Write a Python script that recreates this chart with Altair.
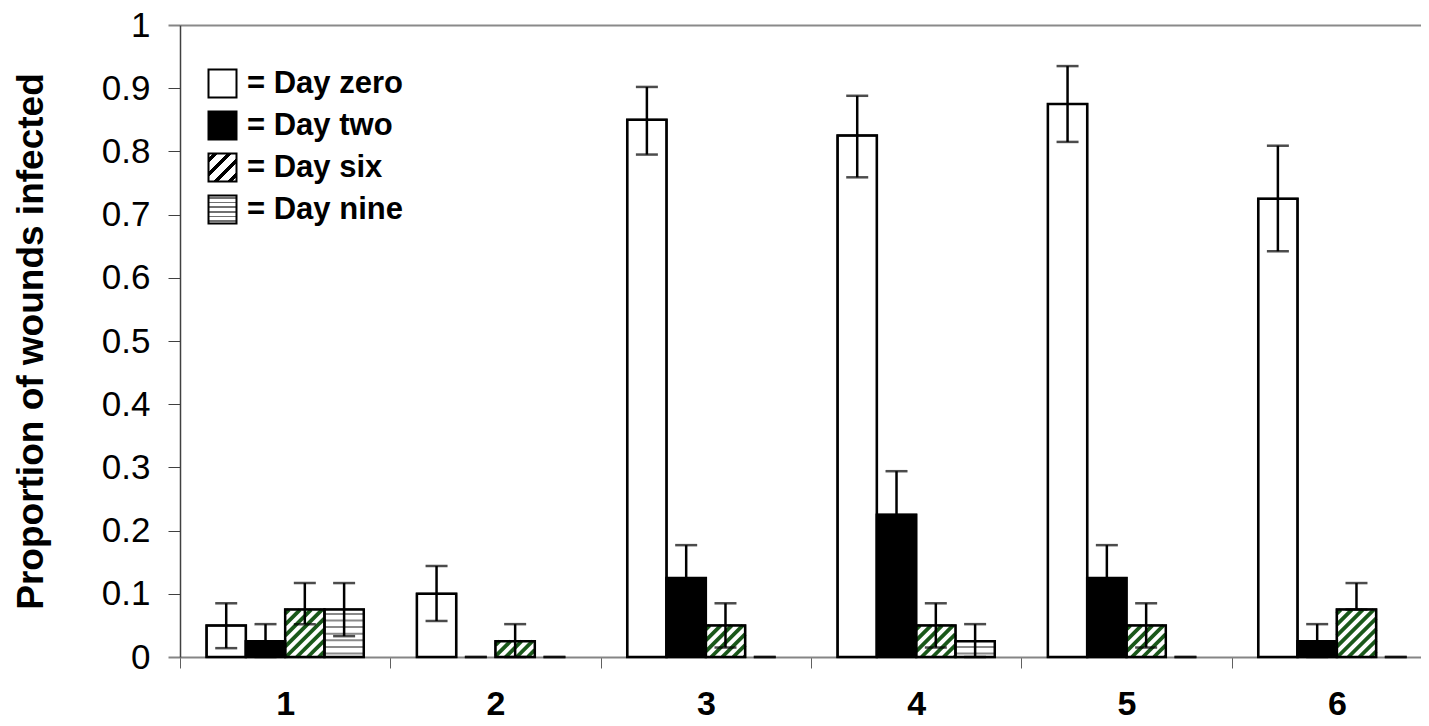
import altair as alt
import pandas as pd

# ---------------- data ----------------
groups = ["1", "2", "3", "4", "5", "6"]
series = ["Day zero", "Day two", "Day six", "Day nine"]

day_zero = [0.05, 0.10, 0.85, 0.825, 0.875, 0.725]
day_two = [0.025, 0.0, 0.125, 0.225, 0.125, 0.025]
day_six = [0.075, 0.025, 0.05, 0.05, 0.05, 0.075]
day_nine = [0.075, 0.0, 0.0, 0.025, 0.0, 0.0]

zero_lo = [0.014, 0.057, 0.795, 0.759, 0.815, 0.642]
zero_hi = [0.085, 0.144, 0.902, 0.888, 0.935, 0.809]
two_lo = [0.0, 0.0, 0.075, 0.156, 0.075, 0.0]
two_hi = [0.052, 0.0, 0.177, 0.294, 0.177, 0.052]
six_lo = [0.052, 0.0, 0.015, 0.015, 0.015, 0.075]
six_hi = [0.117, 0.052, 0.085, 0.085, 0.085, 0.117]
nine_lo = [0.033, 0.0, 0.0, 0.0, 0.0, 0.0]
nine_hi = [0.117, 0.0, 0.0, 0.052, 0.0, 0.0]

y_ticks = [0, 0.1, 0.2, 0.3, 0.4, 0.5, 0.6, 0.7, 0.8, 0.9, 1]

values = [day_zero, day_two, day_six, day_nine]
lows = [zero_lo, two_lo, six_lo, nine_lo]
highs = [zero_hi, two_hi, six_hi, nine_hi]

rows = []
for gi, g in enumerate(groups):
    for si, s in enumerate(series):
        rows.append(dict(group=g, series=s, value=values[si][gi],
                         lo=lows[si][gi], hi=highs[si][gi]))
df = pd.DataFrame(rows)

# ---------------- layout / style constants ----------------
PLOT_W = 1241
PLOT_H = 632
X_RANGE = 1262               # 6 groups, last one runs past the window edge
GROUP_PX = X_RANGE / 6
P0 = 0.676                   # outer padding of the offset scale
F = 1 / (4 + 2 * P0)         # one bar as a fraction of a group
FONT = "Liberation Sans"
GREEN = "#1a581a"

# hatch segments, derived from the bar values
hrows = []
for gi in range(len(groups)):
    for si, s in enumerate(series):
        v = values[si][gi]
        if v <= 0 or s not in ("Day six", "Day nine"):
            continue
        left = gi + P0 * F + si * F
        w = F * GROUP_PX
        h = v * PLOT_H
        if s == "Day six":
            c = -h + 4
            while c < w:
                us = max(0.0, c)
                ue = min(w, h + c)
                if ue - us > 0.5:
                    hrows.append(dict(kind="six", hx=left + us / GROUP_PX, hx2=left + ue / GROUP_PX,
                                      hy=(us - c) / PLOT_H, hy2=(ue - c) / PLOT_H))
                c += 11
        else:
            yy = 3.5
            while yy < h - 1.5:
                hrows.append(dict(kind="nine", hx=left, hx2=left + F,
                                  hy=yy / PLOT_H, hy2=yy / PLOT_H))
                yy += 6.6
hdf = pd.DataFrame(hrows)


def stripes(x2, y2, n, frac, color):
    stops = []
    for k in range(n):
        a = k / n
        m1 = a + (1 - frac) / (2 * n)
        m2 = m1 + frac / n
        e = (k + 1) / n
        for off, col in ((a, "white"), (m1, "white"), (m1, color), (m2, color), (m2, "white"), (e, "white")):
            stops.append("{offset: %.4f, color: '%s'}" % (off, col))
    return {"expr": "{gradient: 'linear', x1: 0, y1: 0, x2: %d, y2: %d, stops: [%s]}"
            % (x2, y2, ", ".join(stops))}


fill_range = ["white", "black", stripes(1, 1, 4, 0.42, "black"), stripes(0, 1, 6, 0.38, "#707070")]

TITLE = "Proportion of wounds infected"

y_axis = alt.Axis(
    values=y_ticks, format=".1~f",
    labelFont=FONT, labelFontSize=35, labelColor="black", labelPadding=18,
    tickSize=12,
    tickColor={"condition": {"test": "datum.value == 0 || datum.value >= 0.99", "value": "#858585"},
               "value": "#404040"},
    tickWidth={"condition": {"test": "datum.value == 0 || datum.value >= 0.99", "value": 2},
               "value": 1},
    domainColor="#404040", domainWidth=1.5,
    grid=True, gridColor="#8a8a8a", gridWidth=2,
    gridOpacity={"condition": {"test": "datum.value >= 0.99", "value": 1}, "value": 0},
    title=TITLE, titleFont=FONT, titleFontSize=37, titleFontWeight="bold", titleColor="black",
    titleX=-149, titleY=PLOT_H / 2, titleAngle=270, titleAlign="center", titleBaseline="middle",
)
y_scale = alt.Scale(domain=[0, 1], nice=False, zero=True)

x_axis = alt.Axis(
    tickBand="extent", tickSize=11, tickColor="#606060", tickWidth=1,
    domainColor="#858585", domainWidth=2,
    labelFont=FONT, labelFontSize=34, labelFontWeight="bold", labelColor="black",
    labelPadding=19, labelAngle=0, title=None, grid=False,
)


def xenc(axis=True):
    return alt.X("group:N", sort=groups,
                 scale=alt.Scale(domain=groups, paddingInner=0, paddingOuter=0, range=[0, X_RANGE]),
                 axis=x_axis if axis else None)


xoff = alt.XOffset("series:N", sort=series,
                   scale=alt.Scale(domain=series, paddingOuter=P0, paddingInner=0))


def yenc(field):
    return alt.Y(f"{field}:Q", scale=y_scale, axis=y_axis, title=TITLE)


base = alt.Chart(df)

bars = base.mark_bar(stroke="black", strokeWidth=2).encode(
    x=xenc(), xOffset=xoff, y=yenc("value"),
    fill=alt.Fill("series:N", sort=series,
                  scale=alt.Scale(domain=series, range=fill_range),
                  legend=alt.Legend(
                      orient="none", legendX=27, legendY=43, padding=0, title=None,
                      symbolType="square", symbolSize=784, symbolStrokeColor="black",
                      symbolStrokeWidth=2, symbolOpacity=1,
                      labelFont=FONT, labelFontSize=31, labelFontWeight="bold",
                      labelColor="black", labelOffset=9, rowPadding=5,
                      labelExpr="'= ' + datum.label",
                  )),
).transform_filter("datum.value > 0")

white_cover = base.mark_bar(fill="white", strokeWidth=0).encode(
    x=xenc(), xOffset=xoff, y=yenc("value"),
).transform_filter("datum.value > 0 && (datum.series == 'Day six' || datum.series == 'Day nine')")

bottom = alt.layer(bars, white_cover)

hx = alt.X("hx:Q", scale=alt.Scale(domain=[0, 6], range=[0, X_RANGE], nice=False, zero=False), axis=None)
hbase = alt.Chart(hdf)
h6 = hbase.mark_rule(color=GREEN, strokeWidth=3.8).encode(
    x=hx, x2="hx2:Q", y=yenc("hy"), y2="hy2:Q",
).transform_filter("datum.kind == 'six'")
h9 = hbase.mark_rule(color="#8a8a8a", strokeWidth=2).encode(
    x=hx, x2="hx2:Q", y=yenc("hy"), y2="hy2:Q",
).transform_filter("datum.kind == 'nine'")
hatch = alt.layer(h6, h9)

outline = base.mark_bar(fillOpacity=0, stroke="black", strokeWidth=2.5).encode(
    x=xenc(False), xOffset=xoff, y=yenc("value"),
).transform_filter("datum.value > 0")

stems = base.mark_rule(color="black", strokeWidth=2.5).encode(
    x=xenc(False), xOffset=xoff, y=yenc("lo"), y2="hi:Q",
).transform_filter("datum.hi > datum.lo")

cap_hi = base.mark_tick(color="black", thickness=2.5, size=22, orient="horizontal").encode(
    x=xenc(False), xOffset=xoff, y=yenc("hi"),
)
cap_lo = base.mark_tick(color="black", thickness=2.5, size=22, orient="horizontal").encode(
    x=xenc(False), xOffset=xoff, y=yenc("lo"),
)
top = alt.layer(outline, stems, cap_hi, cap_lo)

chart = alt.layer(bottom, hatch, top).resolve_scale(x="independent").properties(
    width=PLOT_W, height=PLOT_H,
    autosize=alt.AutoSizeParams(type="none"),
    padding={"left": 172, "top": 17, "right": 0, "bottom": 61},
).configure_view(stroke=None).configure(background="white")

chart.save("out.html", embed_options={"renderer": "svg", "actions": False})
